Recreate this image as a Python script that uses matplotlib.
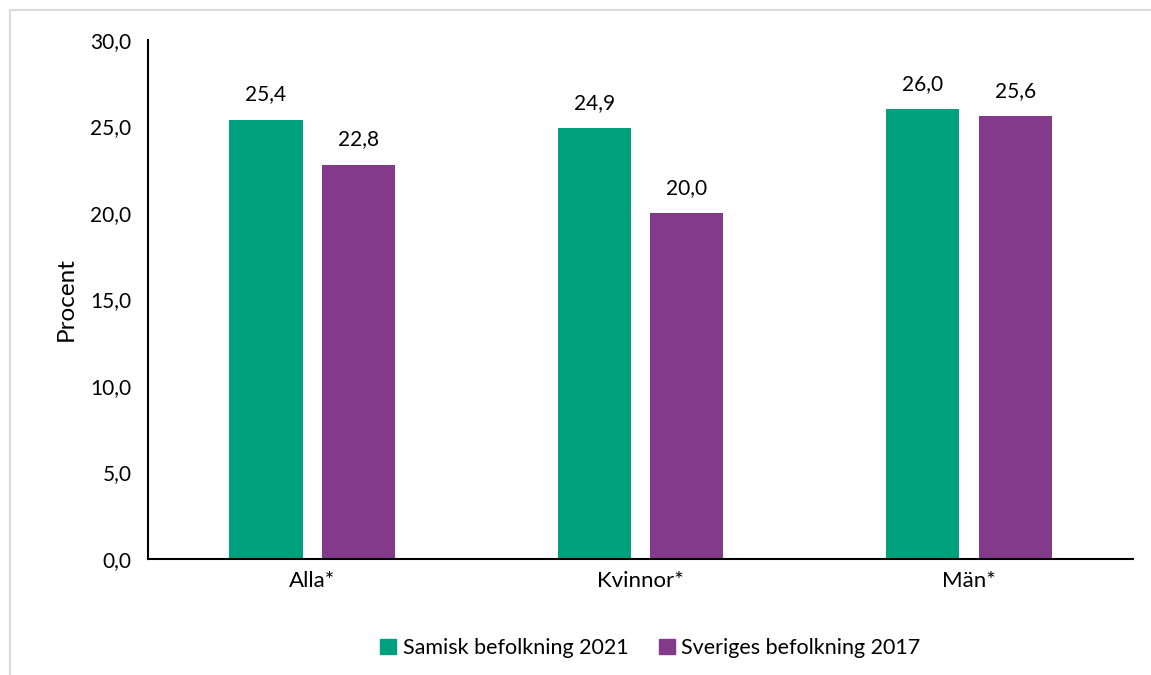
import numpy as np
import matplotlib.pyplot as plt
from matplotlib.lines import Line2D
from matplotlib.patches import Rectangle

# data
categories = ['Alla*', 'Kvinnor*', 'Män*']
samisk_2021 = [25.4, 24.9, 26.0]
sverige_2017 = [22.8, 20.0, 25.6]
series_names = ['Samisk befolkning 2021', 'Sveriges befolkning 2017']

green = '#00A07F'
purple = '#833A8B'

plt.rcParams['font.family'] = ['Lato', 'DejaVu Sans']
plt.rcParams['font.size'] = 15

fig = plt.figure(figsize=(11.51, 6.75), dpi=100)
ax = fig.add_axes([0.1286, 0.1719, 0.8558, 0.7688])

x = np.arange(len(categories))
w = 0.223
off = 0.141
b1 = ax.bar(x - off, samisk_2021, w, color=green, label=series_names[0])
b2 = ax.bar(x + off, sverige_2017, w, color=purple, label=series_names[1])

for bars, vals in [(b1, samisk_2021), (b2, sverige_2017)]:
    for rect, v in zip(bars, vals):
        ax.annotate(f'{v:.1f}'.replace('.', ','),
                    (rect.get_x() + rect.get_width() / 2, v),
                    xytext=(0, 11), textcoords='offset points',
                    ha='center', va='bottom', fontsize=15)

ax.set_xlim(-0.5, 2.5)
ax.set_ylim(0, 30)
ax.set_yticks(np.arange(0, 31, 5))
ax.set_yticklabels([f'{t:.1f}'.replace('.', ',') for t in np.arange(0, 31, 5)])
ax.set_xticks(x)
ax.set_xticklabels(categories, fontsize=16)
ax.tick_params(length=0, pad=12)
ax.tick_params(axis='x', pad=9)
ax.set_ylabel('Procent', fontsize=17.5, labelpad=10)

for s in ['top', 'right']:
    ax.spines[s].set_visible(False)
ax.spines['left'].set_linewidth(1.5)
ax.spines['bottom'].set_linewidth(1.5)

handles = [Rectangle((0, 0), 1, 1, color=green), Rectangle((0, 0), 1, 1, color=purple)]
fig.legend(handles, series_names, loc='center', bbox_to_anchor=(0.565, 0.04),
           ncol=2, frameon=False, handlelength=0.75, handleheight=0.75,
           handletextpad=0.3, columnspacing=1.4, fontsize=15.5)

# light outer frame
fig.add_artist(Line2D([0.009, 0.009], [0.0, 0.985], color='#d9d9d9', lw=1.5, transform=fig.transFigure))
fig.add_artist(Line2D([0.009, 1.0], [0.985, 0.985], color='#d9d9d9', lw=1.5, transform=fig.transFigure))

fig.savefig('out.png', dpi=100)
